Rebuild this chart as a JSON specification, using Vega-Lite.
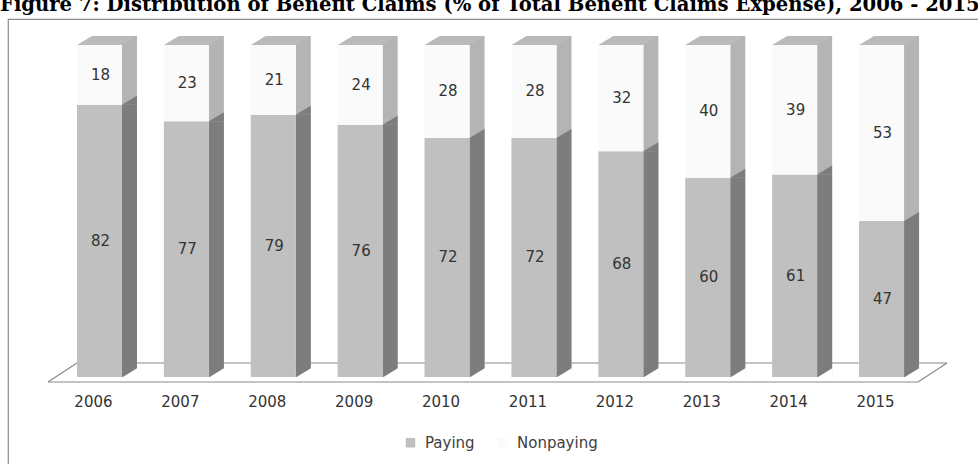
{
  "$schema": "https://vega.github.io/schema/vega-lite/v6.json",
  "autosize": "none",
  "padding": {"left": 8, "top": 19, "right": 0, "bottom": 0},
  "width": 980,
  "height": 455,
  "background": "white",
  "title": {
    "text": "Figure 7: Distribution of Benefit Claims (% of Total Benefit Claims Expense), 2006 - 2015",
    "anchor": "start",
    "frame": "group",
    "font": "DejaVu Serif",
    "fontSize": 19.6,
    "fontWeight": "bold",
    "color": "#000000",
    "baseline": "alphabetic",
    "offset": 0,
    "dx": -8,
    "dy": 12
  },
  "data": {
    "values": [
      {"year": "2006", "Paying": 82, "Nonpaying": 18},
      {"year": "2007", "Paying": 77, "Nonpaying": 23},
      {"year": "2008", "Paying": 79, "Nonpaying": 21},
      {"year": "2009", "Paying": 76, "Nonpaying": 24},
      {"year": "2010", "Paying": 72, "Nonpaying": 28},
      {"year": "2011", "Paying": 72, "Nonpaying": 28},
      {"year": "2012", "Paying": 68, "Nonpaying": 32},
      {"year": "2013", "Paying": 60, "Nonpaying": 40},
      {"year": "2014", "Paying": 61, "Nonpaying": 39},
      {"year": "2015", "Paying": 47, "Nonpaying": 53}
    ]
  },
  "resolve": {"scale": {"y": "independent"}},
  "layer": [
    {
      "data": {"values": [{}]},
      "mark": {"type": "rule", "color": "#8a8a8a", "strokeWidth": 1.2, "xOffset": -51.5, "x2Offset": 36.5, "yOffset": 5, "y2Offset": 5},
      "encoding": {
        "x": {"datum": "2006", "type": "nominal", "scale": {"domain": ["2006","2007","2008","2009","2010","2011","2012","2013","2014","2015"], "range": [48, 917], "paddingInner": 0.482, "paddingOuter": 0.241}},
        "x2": {"datum": "2015"},
        "y": {"datum": 0, "type": "quantitative", "scale": {"domain": [0, 100], "range": [358, 26], "nice": false, "zero": false}},
        "y2": {"datum": 0}
      }
    },
    {
      "data": {"values": [{}]},
      "mark": {"type": "rule", "color": "#8a8a8a", "strokeWidth": 1.2, "xOffset": -22.5, "x2Offset": 65.5, "yOffset": -14, "y2Offset": -14},
      "encoding": {
        "x": {"datum": "2006", "type": "nominal"},
        "x2": {"datum": "2015"},
        "y": {"datum": 0, "type": "quantitative", "scale": {"domain": [0, 100], "range": [358, 26], "nice": false, "zero": false}},
        "y2": {"datum": 0}
      }
    },
    {
      "data": {"values": [{}]},
      "mark": {"type": "rule", "color": "#8a8a8a", "strokeWidth": 1.2, "xOffset": -51.5, "x2Offset": -22.5, "yOffset": 5, "y2Offset": -14},
      "encoding": {
        "x": {"datum": "2006", "type": "nominal"},
        "x2": {"datum": "2006"},
        "y": {"datum": 0, "type": "quantitative", "scale": {"domain": [0, 100], "range": [358, 26], "nice": false, "zero": false}},
        "y2": {"datum": 0}
      }
    },
    {
      "data": {"values": [{}]},
      "mark": {"type": "rule", "color": "#8a8a8a", "strokeWidth": 1.2, "xOffset": 36.5, "x2Offset": 65.5, "yOffset": 5, "y2Offset": -14},
      "encoding": {
        "x": {"datum": "2015", "type": "nominal"},
        "x2": {"datum": "2015"},
        "y": {"datum": 0, "type": "quantitative", "scale": {"domain": [0, 100], "range": [358, 26], "nice": false, "zero": false}},
        "y2": {"datum": 0}
      }
    },
    {
      "mark": {"type": "bar", "width": 15, "xOffset": 30, "yOffset": -9, "color": "#b4b4b4"},
      "encoding": {
        "x": {"field": "year", "type": "nominal"},
        "y": {"datum": 100, "type": "quantitative", "scale": {"domain": [0, 100], "range": [358, 26], "nice": false, "zero": false}},
        "y2": {"datum": 0}
      }
    },
    {
      "mark": {"type": "bar", "width": 15, "xOffset": 30, "color": "#7d7d7d"},
      "encoding": {
        "x": {"field": "year", "type": "nominal"},
        "y": {"field": "Paying", "type": "quantitative", "scale": {"domain": [0, 100], "range": [358, 26], "nice": false, "zero": false}},
        "y2": {"datum": 0}
      }
    },
    {
      "mark": {"type": "point", "shape": "M22.5,0L37.5,-9L37.5,0Z", "size": 4, "filled": true, "opacity": 1, "color": "#7d7d7d", "strokeWidth": 0},
      "encoding": {
        "x": {"field": "year", "type": "nominal"},
        "y": {"field": "Paying", "type": "quantitative", "scale": {"domain": [0, 100], "range": [358, 26], "nice": false, "zero": false}}
      }
    },
    {
      "mark": {"type": "point", "shape": "M22.5,0.5L38,0.5L38,-9Z", "size": 4, "filled": true, "opacity": 1, "color": "#ffffff", "strokeWidth": 0},
      "encoding": {
        "x": {"field": "year", "type": "nominal"},
        "y": {"datum": 0, "type": "quantitative", "scale": {"domain": [0, 100], "range": [358, 26], "nice": false, "zero": false}}
      }
    },
    {
      "mark": {"type": "point", "shape": "M-22.5,0L-7.5,-9L37.5,-9L22.5,0Z", "size": 4, "filled": true, "opacity": 1, "color": "#bababa", "strokeWidth": 0},
      "encoding": {
        "x": {"field": "year", "type": "nominal"},
        "y": {"datum": 100, "type": "quantitative", "scale": {"domain": [0, 100], "range": [358, 26], "nice": false, "zero": false}}
      }
    },
    {
      "transform": [{"fold": ["Paying", "Nonpaying"], "as": ["series", "share"]}],
      "mark": {"type": "bar"},
      "encoding": {
        "x": {"field": "year", "type": "nominal"},
        "y": {"field": "share", "type": "quantitative", "stack": "zero", "scale": {"domain": [0, 100], "range": [358, 26], "nice": false, "zero": false}},
        "order": {"field": "series", "sort": "descending"},
        "color": {
          "field": "series",
          "type": "nominal",
          "scale": {"domain": ["Paying", "Nonpaying"], "range": ["#c0c0c0", "#fafafa"]},
          "legend": {
            "orient": "none",
            "legendX": 395,
            "legendY": 416,
            "direction": "horizontal",
            "title": null,
            "symbolType": "square",
            "symbolSize": 90,
            "symbolStrokeWidth": 0,
            "labelFont": "DejaVu Sans",
            "labelFontSize": 15,
            "labelColor": "#404040",
            "labelOffset": 7,
            "columnPadding": 20
          }
        }
      }
    },
    {
      "mark": {"type": "text", "font": "DejaVu Sans", "fontSize": 15, "color": "#333333", "xOffset": 1},
      "encoding": {
        "x": {"field": "year", "type": "nominal"},
        "y": {"field": "Paying", "type": "quantitative", "scale": {"domain": [0, 200], "range": [358, 26], "nice": false, "zero": false}},
        "text": {"field": "Paying", "type": "quantitative"}
      }
    },
    {
      "mark": {"type": "text", "font": "DejaVu Sans", "fontSize": 15, "color": "#333333", "xOffset": 1},
      "encoding": {
        "x": {"field": "year", "type": "nominal"},
        "y": {"field": "Paying", "type": "quantitative", "scale": {"domain": [-100, 100], "range": [358, 26], "nice": false, "zero": false}},
        "text": {"field": "Nonpaying", "type": "quantitative"}
      }
    },
    {
      "mark": {"type": "text", "font": "DejaVu Sans", "fontSize": 15, "color": "#333333", "xOffset": -6, "yOffset": 25},
      "encoding": {
        "x": {"field": "year", "type": "nominal"},
        "y": {"datum": 0, "type": "quantitative", "scale": {"domain": [0, 100], "range": [358, 26], "nice": false, "zero": false}},
        "text": {"field": "year", "type": "nominal"}
      }
    }
  ],
  "config": {
    "view": {"stroke": "#8c8c8c", "strokeWidth": 1.2},
    "axis": {"disable": true}
  }
}
